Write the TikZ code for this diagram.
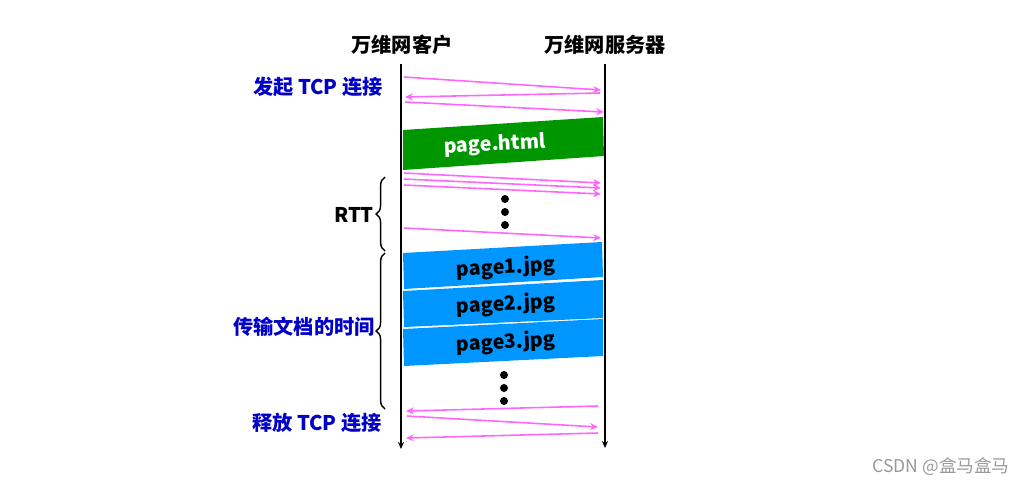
\documentclass[tikz,border=0pt]{standalone}
\usepackage{fontspec}
\setmainfont{Noto Sans CJK SC}
\usetikzlibrary{arrows.meta,decorations.pathreplacing}
\definecolor{msgpink}{RGB}{255,102,255}
\definecolor{lblblue}{RGB}{0,0,200}
\definecolor{htmlgreen}{RGB}{0,150,0}
\definecolor{jpgblue}{RGB}{0,150,255}
\tikzset{
  timeline/.style={line width=1.2pt, -{Stealth[length=4pt,width=3.5pt]}},
  msg/.style={draw=msgpink, line width=0.9pt, -{Stealth[length=4.5pt,width=4pt]}},
  hdr/.style={font=\bfseries\fontsize{11.5}{13}\selectfont},
  lbl/.style={text=lblblue, font=\bfseries\fontsize{11.5}{13}\selectfont},
  filetxt/.style={font=\bfseries\fontsize{11.2}{13}\selectfont, rotate=3},
  dotmark/.style={circle, fill, inner sep=0pt, minimum size=0.16cm},
  rttbrace/.style={decorate, decoration={brace, amplitude=5pt}, line width=0.8pt}
}
\begin{document}
\begin{tikzpicture}[x=0.02cm, y=-0.02cm]
    \useasboundingbox (0,0) rectangle (1025,485);
    % 两条时间线
    \node[hdr] (cli) at (402,45) {万维网客户};
    \node[hdr] (srv) at (605,45) {万维网服务器};
    \coordinate (cltop) at (401,64);
    \coordinate (clbot) at (401,449);
    \coordinate (svtop) at (605,64);
    \coordinate (svbot) at (605,448);
    \draw[timeline] (cltop) -- (clbot);
    \draw[timeline] (svtop) -- (svbot);

    % 传送的文档
    \fill[htmlgreen] (403,130) -- (603,117) -- (604,156) -- (403,170) -- cycle;
    \node[filetxt, text=white] (html) at (495,145) {page.html};
    \fill[jpgblue] (403,253) -- (602,242) -- (603,277) -- (404,289) -- cycle;
    \fill[jpgblue] (403,291) -- (603,280) -- (603,318) -- (404,327) -- cycle;
    \fill[jpgblue] (403,329) -- (603,319) -- (603,356) -- (404,366) -- cycle;
    \node[filetxt] (jpg1) at (506,268) {page1.jpg};
    \node[filetxt] (jpg2) at (506,305) {page2.jpg};
    \node[filetxt] (jpg3) at (506,343) {page3.jpg};

    % 报文段
    \foreach \n/\xa/\ya/\xb/\yb in {1/404/77/601/90, 2/600/93/405/97, 3/405/102/604/112,
        4/404/173/601/183, 5/404/179/601/188, 6/404/185/601/194, 7/404/228/601/238,
        8/598/406/406/411, 9/407/416/598/427, 10/598/433/406/438}{
      \coordinate (s\n) at (\xa,\ya);
      \coordinate (e\n) at (\xb,\yb);
      \draw[msg] (s\n) -- (e\n);
    }

    % 省略号
    \foreach \y [count=\i] in {199,212,225}
      \node[dotmark] (da\i) at (505,\y) {};
    \foreach \y [count=\i] in {375,388,401}
      \node[dotmark] (db\i) at (504,\y) {};

    % 括号与标注
    \coordinate (rb) at (385,251);
    \coordinate (rt) at (385,177);
    \coordinate (tb) at (385,409);
    \coordinate (tt) at (385,253);
    \draw[rttbrace] (rb) -- (rt);
    \draw[rttbrace] (tb) -- (tt);
    \node[hdr] (rtt) at (354,215) {RTT};
    \node[lbl] (open) at (318,87) {发起 TCP 连接};
    \node[lbl] (xfer) at (304,327) {传输文档的时间};
    \node[lbl] (close) at (317,423) {释放 TCP 连接};

    % 水印
    \node[text=black!40, font=\fontsize{10}{12}\selectfont] (wm) at (941,467) {CSDN @盒马盒马};
\end{tikzpicture}
\end{document}
